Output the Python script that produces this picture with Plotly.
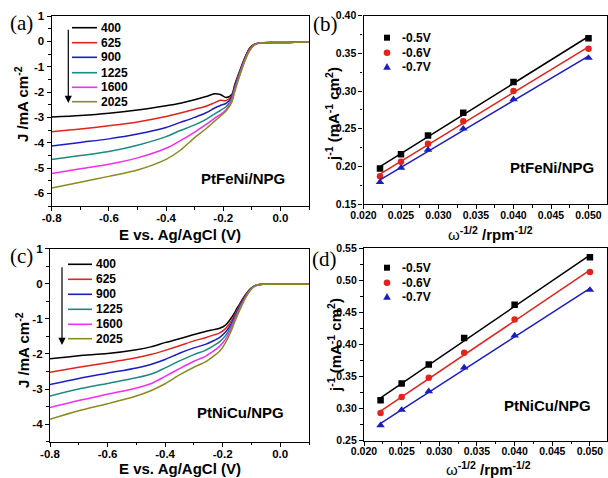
import numpy as np
import plotly.graph_objects as go

W, H = 608, 478

# ---------------- data ----------------
rpm_labels = ["400", "625", "900", "1225", "1600", "2025"]
colors_lsv = ["#000000", "#e3231c", "#1c1cc4", "#1b8a80", "#f22ef2", "#8c8a22"]

# Panel (a) PtFeNi/NPG LSV
E_a = [-0.8, -0.7, -0.6, -0.5, -0.4, -0.35, -0.3, -0.26, -0.23, -0.21, -0.19, -0.17, -0.16,
       -0.15, -0.14, -0.13, -0.12, -0.11, -0.10, -0.09, -0.08, -0.06, -0.03, 0.0, 0.05, 0.1]
J_a_400 = [-2.99, -2.93, -2.84, -2.71, -2.54, -2.44, -2.31, -2.18, -2.07, -2.10, -2.22, -2.10, -1.72,
           -1.40, -1.10, -0.80, -0.53, -0.31, -0.18, -0.11, -0.08, -0.06, -0.05, -0.05, -0.04, -0.03]
J_a_625 = [-3.57, -3.46, -3.33, -3.18, -2.97, -2.83, -2.68, -2.56, -2.42, -2.33, -2.34, -2.15, -1.78,
           -1.44, -1.13, -0.82, -0.55, -0.33, -0.19, -0.12, -0.08, -0.06, -0.05, -0.05, -0.04, -0.03]
J_a_900 = [-4.13, -3.99, -3.85, -3.66, -3.40, -3.20, -3.00, -2.82, -2.63, -2.53, -2.45, -2.20, -1.82,
           -1.48, -1.16, -0.85, -0.58, -0.35, -0.20, -0.12, -0.08, -0.06, -0.05, -0.05, -0.04, -0.03]
J_a_1225 = [-4.66, -4.51, -4.35, -4.10, -3.76, -3.52, -3.30, -3.08, -2.86, -2.73, -2.58, -2.25, -1.87,
            -1.52, -1.19, -0.88, -0.60, -0.37, -0.22, -0.13, -0.09, -0.06, -0.05, -0.05, -0.04, -0.03]
J_a_1600 = [-5.22, -5.03, -4.85, -4.60, -4.22, -3.92, -3.58, -3.28, -3.03, -2.89, -2.70, -2.32, -1.93,
            -1.57, -1.23, -0.91, -0.63, -0.39, -0.23, -0.13, -0.09, -0.06, -0.05, -0.05, -0.04, -0.03]
J_a_2025 = [-5.79, -5.56, -5.33, -5.08, -4.66, -4.30, -3.80, -3.45, -3.15, -2.95, -2.75, -2.40, -2.00,
            -1.63, -1.28, -0.95, -0.66, -0.42, -0.25, -0.14, -0.09, -0.06, -0.05, -0.05, -0.04, -0.03]

# Panel (c) PtNiCu/NPG LSV
E_c = [-0.8, -0.7, -0.6, -0.5, -0.45, -0.4, -0.35, -0.3, -0.26, -0.23, -0.21, -0.19, -0.17, -0.16,
       -0.15, -0.14, -0.13, -0.12, -0.11, -0.10, -0.09, -0.08, -0.06, -0.03, 0.0, 0.05, 0.1]
J_c_400 = [-2.14, -2.05, -1.99, -1.88, -1.80, -1.68, -1.57, -1.45, -1.36, -1.31, -1.27, -1.18, -0.98, -0.85,
           -0.70, -0.57, -0.43, -0.31, -0.20, -0.12, -0.07, -0.04, -0.02, -0.02, -0.02, -0.02, -0.02]
J_c_625 = [-2.52, -2.38, -2.25, -2.11, -2.02, -1.90, -1.77, -1.63, -1.54, -1.46, -1.40, -1.28, -1.07, -0.92,
           -0.76, -0.60, -0.46, -0.33, -0.22, -0.13, -0.07, -0.04, -0.02, -0.02, -0.02, -0.02, -0.02]
J_c_900 = [-2.87, -2.70, -2.55, -2.40, -2.30, -2.16, -1.98, -1.83, -1.73, -1.62, -1.53, -1.38, -1.14, -0.97,
           -0.80, -0.63, -0.48, -0.35, -0.23, -0.13, -0.07, -0.04, -0.02, -0.02, -0.02, -0.02, -0.02]
J_c_1225 = [-3.20, -3.00, -2.84, -2.68, -2.58, -2.40, -2.20, -2.02, -1.90, -1.76, -1.65, -1.48, -1.20, -1.02,
            -0.84, -0.66, -0.51, -0.37, -0.24, -0.14, -0.08, -0.04, -0.02, -0.02, -0.02, -0.02, -0.02]
J_c_1600 = [-3.53, -3.33, -3.15, -2.97, -2.85, -2.64, -2.42, -2.21, -2.07, -1.91, -1.78, -1.58, -1.27, -1.07,
            -0.88, -0.70, -0.53, -0.38, -0.25, -0.15, -0.08, -0.04, -0.02, -0.02, -0.02, -0.02, -0.02]
J_c_2025 = [-3.86, -3.62, -3.42, -3.20, -3.05, -2.85, -2.60, -2.38, -2.23, -2.05, -1.92, -1.68, -1.34, -1.13,
            -0.93, -0.74, -0.56, -0.40, -0.26, -0.15, -0.08, -0.04, -0.02, -0.02, -0.02, -0.02, -0.02]

# K-L plots: omega^-1/2 (rpm^-1/2) for 2025,1600,1225,900,625,400 rpm
w_inv = [0.0222, 0.0250, 0.0286, 0.0333, 0.0400, 0.0500]
kl_labels = ["-0.5V", "-0.6V", "-0.7V"]
kl_colors = ["#000000", "#e3231c", "#1c1cc4"]
kl_symbols = ["square", "circle", "triangle-up"]
# Panel (b) PtFeNi/NPG
jinv_b_05 = [0.197, 0.216, 0.241, 0.271, 0.312, 0.370]
jinv_b_06 = [0.187, 0.206, 0.230, 0.260, 0.300, 0.356]
jinv_b_07 = [0.179, 0.198, 0.222, 0.250, 0.289, 0.344]
# Panel (d) PtNiCu/NPG
jinv_d_05 = [0.313, 0.339, 0.369, 0.410, 0.462, 0.536]
jinv_d_06 = [0.293, 0.318, 0.348, 0.387, 0.439, 0.513]
jinv_d_07 = [0.274, 0.298, 0.327, 0.364, 0.414, 0.485]

xt_lsv = [-0.8, -0.6, -0.4, -0.2, 0.0]
xt_lsv_text = ["-0.8", "-0.6", "-0.4", "-0.2", "0.0"]
yt_a = [1, 0, -1, -2, -3, -4, -5, -6]
yt_c = [1, 0, -1, -2, -3, -4]
xt_kl = [0.020, 0.025, 0.030, 0.035, 0.040, 0.045, 0.050]
yt_b = [0.15, 0.20, 0.25, 0.30, 0.35, 0.40]
yt_d = [0.25, 0.30, 0.35, 0.40, 0.45, 0.50, 0.55]

# ---------------- helpers ----------------
def px(x):
    return x / W

def py(y):
    return 1 - y / H

FONT = "Liberation Sans, Arial, sans-serif"
SERIF = "Liberation Serif, Times New Roman, serif"

fig = go.Figure()

lsv_a = [J_a_400, J_a_625, J_a_900, J_a_1225, J_a_1600, J_a_2025]
lsv_c = [J_c_400, J_c_625, J_c_900, J_c_1225, J_c_1600, J_c_2025]
for lab, col, ja in zip(rpm_labels, colors_lsv, lsv_a):
    fig.add_trace(go.Scatter(x=E_a, y=ja, mode="lines", name=lab, showlegend=False,
                             line=dict(color=col, width=1.5, shape="spline", smoothing=0.8),
                             xaxis="x", yaxis="y"))
for lab, col, jc in zip(rpm_labels, colors_lsv, lsv_c):
    fig.add_trace(go.Scatter(x=E_c, y=jc, mode="lines", name=lab, showlegend=False,
                             line=dict(color=col, width=1.5, shape="spline", smoothing=0.8),
                             xaxis="x3", yaxis="y3"))

def add_kl(series, xa, ya):
    xs = np.array(w_inv)
    for lab, col, sym, ys in zip(kl_labels, kl_colors, kl_symbols, series):
        k, b = np.polyfit(xs, np.array(ys), 1)
        xf = [xs.min(), xs.max()]
        fig.add_trace(go.Scatter(x=xf, y=[k * v + b for v in xf], mode="lines", showlegend=False,
                                 line=dict(color=col, width=1.5), xaxis=xa, yaxis=ya))
        fig.add_trace(go.Scatter(x=w_inv, y=ys, mode="markers", name=lab, showlegend=False,
                                 marker=dict(color=col, symbol=sym, size=6.5 if sym != "triangle-up" else 7.5),
                                 xaxis=xa, yaxis=ya))

add_kl([jinv_b_05, jinv_b_06, jinv_b_07], "x2", "y2")
add_kl([jinv_d_05, jinv_d_06, jinv_d_07], "x4", "y4")

tf_lsv = dict(family=FONT, size=11.5, color="black", weight="bold")
tf_kl = dict(family=FONT, size=10.5, color="black", weight="bold")

def axis_common(tf, **kw):
    d = dict(showline=True, linecolor="black", linewidth=1.3, mirror=True,
             ticks="outside", ticklen=4, tickwidth=1.2, tickcolor="black",
             showgrid=False, zeroline=False, tickfont=tf, automargin=False)
    d.update(kw)
    return d

mn = lambda dt: dict(dtick=dt, tick0=0, ticks="outside", ticklen=2.5, tickcolor="black")

fig.update_layout(
    width=W, height=H, margin=dict(l=0, r=0, t=0, b=0),
    paper_bgcolor="white", plot_bgcolor="white", showlegend=False,
    xaxis=axis_common(tf_lsv, domain=[px(51.7), px(309)], range=[-0.8, 0.1], anchor="y",
                      tickmode="array", tickvals=xt_lsv, ticktext=xt_lsv_text,
                      ticklabelstandoff=-3, minor=mn(0.1)),
    yaxis=axis_common(tf_lsv, domain=[py(206), py(16)], range=[-6.5, 1], anchor="x",
                      tickmode="array", tickvals=yt_a, ticktext=[str(v) for v in yt_a],
                      minor=mn(0.5)),
    xaxis2=axis_common(tf_kl, domain=[px(363.5), px(606.5)], range=[0.02, 0.0524], anchor="y2",
                       tickmode="array", tickvals=xt_kl, ticktext=[f"{v:.3f}" for v in xt_kl],
                       ticklabelstandoff=-3, minor=mn(0.0025)),
    yaxis2=axis_common(tf_kl, domain=[py(204), py(15.7)], range=[0.15, 0.40], anchor="x2",
                       tickmode="array", tickvals=yt_b, ticktext=[f"{v:.2f}" for v in yt_b],
                       minor=mn(0.025)),
    xaxis3=axis_common(tf_lsv, domain=[px(50), px(309)], range=[-0.8, 0.1], anchor="y3",
                       tickmode="array", tickvals=xt_lsv, ticktext=xt_lsv_text,
                       ticklabelstandoff=-3, minor=mn(0.1)),
    yaxis3=axis_common(tf_lsv, domain=[py(441.7), py(248.5)], range=[-4.5, 1], anchor="x3",
                       tickmode="array", tickvals=yt_c, ticktext=[str(v) for v in yt_c],
                       minor=mn(0.5)),
    xaxis4=axis_common(tf_kl, domain=[px(364), px(606.5)], range=[0.02, 0.0522], anchor="y4",
                       tickmode="array", tickvals=xt_kl, ticktext=[f"{v:.3f}" for v in xt_kl],
                       ticklabelstandoff=-3, minor=mn(0.0025)),
    yaxis4=axis_common(tf_kl, domain=[py(440.7), py(248.3)], range=[0.25, 0.55], anchor="x4",
                       tickmode="array", tickvals=yt_d, ticktext=[f"{v:.2f}" for v in yt_d],
                       minor=mn(0.025)),
)

ann = []
shapes = []

def text(x, y, s, size=14, family=FONT, weight="bold", angle=0, xanchor="center"):
    ann.append(dict(x=px(x), y=py(y), xref="paper", yref="paper", text=s, showarrow=False,
                    textangle=angle, xanchor=xanchor, yanchor="middle",
                    font=dict(family=family, size=size, color="black", weight=weight)))

# panel letters
text(21, 23, "(a)", size=21, family=SERIF, weight="normal")
text(325, 24, "(b)", size=21, family=SERIF, weight="normal")
text(21, 256, "(c)", size=21, family=SERIF, weight="normal")
text(324, 259, "(d)", size=21, family=SERIF, weight="normal")

# sample labels
text(243, 178, "PtFeNi/NPG", size=15)
text(552, 167, "PtFeNi/NPG", size=15)
text(240, 412, "PtNiCu/NPG", size=15)
text(547, 405, "PtNiCu/NPG", size=15)

# axis titles
text(180, 234, "E vs. Ag/AgCl (V)", size=15)
text(180, 468, "E vs. Ag/AgCl (V)", size=15)
text(21, 104, "J /mA cm<sup>-2</sup>", size=15, angle=-90)
text(22, 350, "J /mA cm<sup>-2</sup>", size=15, angle=-90)
text(490, 233, "<span style='font-weight:normal'>ω</span><sup>-1/2</sup> /rpm<sup>-1/2</sup>", size=15)
text(488, 468, "<span style='font-weight:normal'>ω</span><sup>-1/2</sup> /rpm<sup>-1/2</sup>", size=15)
text(332, 114, "j<sup>-1</sup> (mA<sup>-1</sup> cm<sup>2</sup>)", size=15, angle=-90)
text(334, 345, "j<sup>-1</sup> (mA<sup>-1</sup> cm<sup>2</sup>)", size=15, angle=-90)

# LSV legends
rows_a = [27.7, 42.7, 57.3, 72.7, 87.3, 101.7]
rows_c = [264.3, 279.3, 294.3, 309.3, 324.3, 338.7]
for rows, x0, x1 in [(rows_a, 72, 97), (rows_c, 68, 92)]:
    for yy, lab, col in zip(rows, rpm_labels, colors_lsv):
        shapes.append(dict(type="line", xref="paper", yref="paper", x0=px(x0), x1=px(x1),
                           y0=py(yy), y1=py(yy), line=dict(color=col, width=1.6)))
        text(x1 + 1.5, yy, lab, size=12, xanchor="left")

# arrows
for xa, y0, y1 in [(68.3, 28.3, 103), (62, 265.7, 345)]:
    ann.append(dict(x=px(xa), y=py(y1), xref="paper", yref="paper", ax=0, ay=-(y1 - y0),
                    axref="pixel", ayref="pixel", text="", showarrow=True,
                    arrowhead=2, arrowsize=1.2, arrowwidth=1.2, arrowcolor="black", standoff=0))

# KL legends
for rows in [[37.7, 52.7, 66.7], [267.7, 282.7, 296.7]]:
    for yy, lab, col, sym in zip(rows, kl_labels, kl_colors, kl_symbols):
        cx = 387
        if sym == "square":
            shapes.append(dict(type="rect", xref="paper", yref="paper", x0=px(cx - 3), x1=px(cx + 3),
                               y0=py(yy + 3), y1=py(yy - 3), fillcolor=col, line=dict(width=0)))
        elif sym == "circle":
            shapes.append(dict(type="circle", xref="paper", yref="paper", x0=px(cx - 3.3), x1=px(cx + 3.3),
                               y0=py(yy + 3.3), y1=py(yy - 3.3), fillcolor=col, line=dict(width=0)))
        else:
            path = f"M {px(cx - 3.8)},{py(yy + 3)} L {px(cx + 3.8)},{py(yy + 3)} L {px(cx)},{py(yy - 3.8)} Z"
            shapes.append(dict(type="path", xref="paper", yref="paper", path=path,
                               fillcolor=col, line=dict(width=0)))
        text(400, yy, lab, size=12, xanchor="left")

fig.update_layout(annotations=ann, shapes=shapes)
fig.write_html("out.html")
